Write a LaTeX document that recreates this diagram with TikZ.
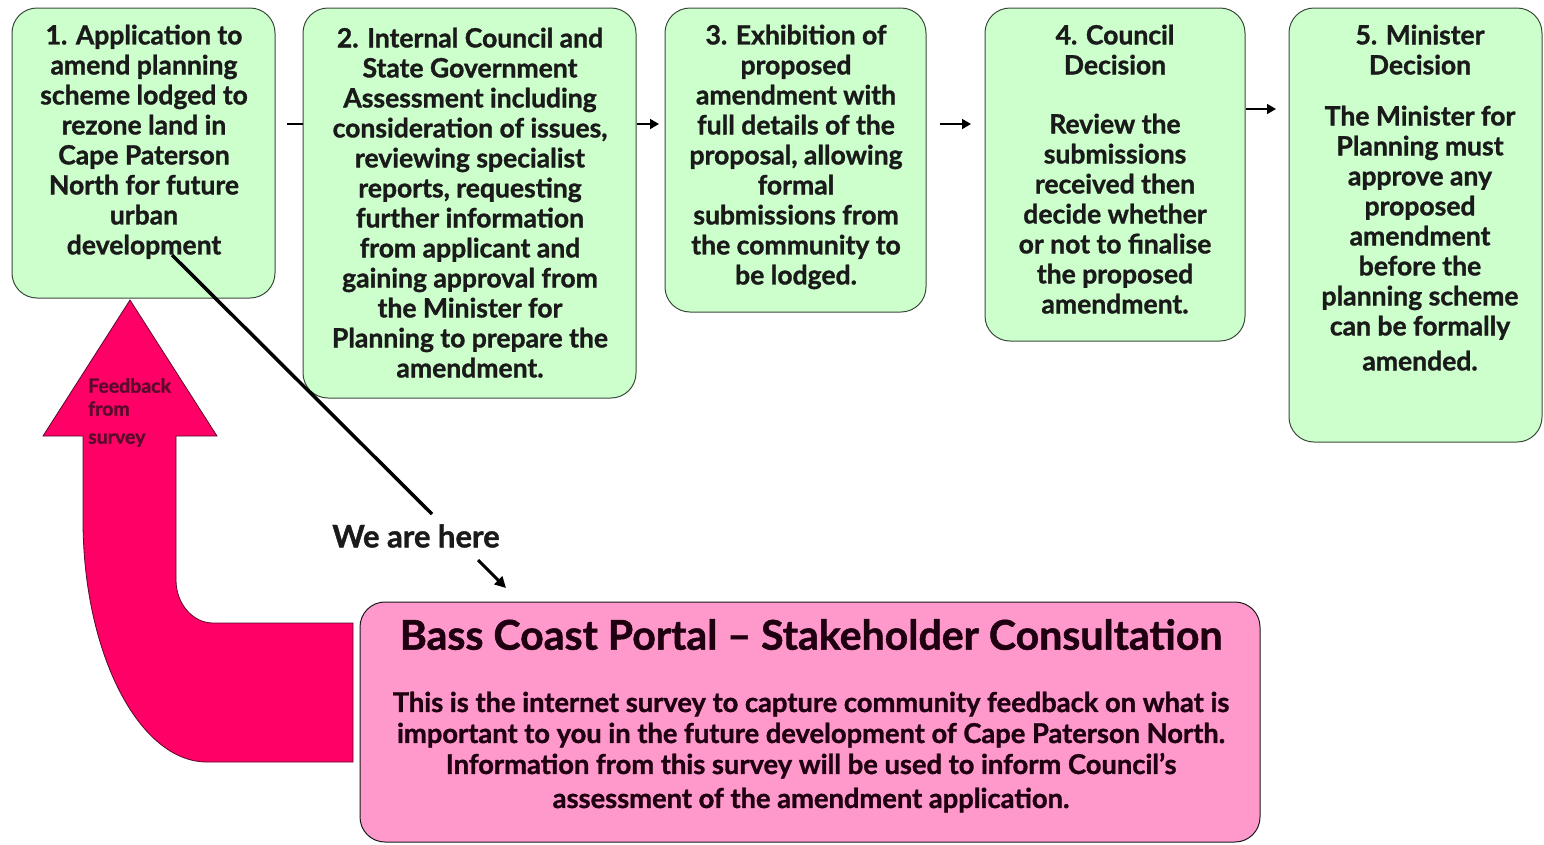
\documentclass[tikz,border=0pt]{standalone}
\usepackage{fontspec}
\setmainfont{Lato}[BoldFeatures={FakeBold=1.2}]
\usetikzlibrary{arrows.meta}
\definecolor{boxgreen}{HTML}{CCFFCC}
\definecolor{boxpink}{HTML}{FF99CC}
\definecolor{crimson}{HTML}{FF0066}
\definecolor{edgegrey}{HTML}{3A4A3A}
\definecolor{inkdark}{HTML}{1A1A1A}
\definecolor{inkpink}{HTML}{1F0010}
\definecolor{maroon}{HTML}{5A0A2A}
\begin{document}
\begin{tikzpicture}[x=1pt,y=-1pt,
  greenbox/.style={draw=edgegrey, fill=boxgreen, line width=1pt, rounded corners=25pt, inner sep=0pt},
  pinkbox/.style={draw=inkdark, fill=boxpink, line width=1pt, rounded corners=25pt, inner sep=0pt},
  boxtext/.style={anchor=north, inner sep=0pt, align=center, text=inkdark, font=\bfseries\fontsize{26.5}{30}\selectfont},
  flow/.style={line width=1.6pt, -{Triangle[length=9pt,width=10pt]}},
  flowplain/.style={line width=1.6pt},
  here/.style={line width=3.5pt, black},
]
\useasboundingbox (0,0) rectangle (1544,844);

% feedback arrow
\draw[fill=crimson, draw=maroon, line width=0.8pt]
  (130,300) -- (217,436) -- (176,436) -- (176,580)
  .. controls (176,604) and (193,623) .. (213,623)
  -- (353,623) -- (353,762) -- (207,762)
  .. controls (139,762) and (83,653) .. (83,520)
  -- (83,436) -- (43,436) -- cycle;
\node[anchor=north west, inner sep=0pt, align=left, text=maroon, font=\bfseries\fontsize{19.5}{23}\selectfont] (fb) at (88,378) {Feedback\\from\\[5pt]survey};

% green boxes
\node[greenbox, minimum width=263pt, minimum height=290pt] (b1) at (143.5,153) {};
\node[greenbox, minimum width=333pt, minimum height=390pt] (b2) at (469.5,203) {};
\node[greenbox, minimum width=261pt, minimum height=304pt] (b3) at (795.5,160) {};
\node[greenbox, minimum width=260pt, minimum height=333pt] (b4) at (1115,174.5) {};
\node[greenbox, minimum width=253pt, minimum height=434pt] (b5) at (1415.5,225) {};

\node[boxtext] (t1) at (144,24.5) {1. Application to\\amend planning\\scheme lodged to\\rezone land in\\Cape Paterson\\North for future\\urban\\development};
\node[boxtext] (t2) at (470,27.5) {2. Internal Council and\\State Government\\Assessment including\\consideration of issues,\\reviewing specialist\\reports, requesting\\further information\\from applicant and\\gaining approval from\\the Minister for\\Planning to prepare the\\amendment.};
\node[boxtext] (t3) at (796,24.5) {3. Exhibition of\\proposed\\amendment with\\full details of the\\proposal, allowing\\formal\\submissions from\\the community to\\be lodged.};
\node[boxtext] (t4) at (1115,24.5) {4. Council\\Decision\\[29pt]Review the\\submissions\\received then\\decide whether\\or not to finalise\\the proposed\\amendment.};
\node[boxtext] (t5) at (1420,24.5) {5. Minister\\Decision\\[21pt]The Minister for\\Planning must\\approve any\\proposed\\amendment\\before the\\planning scheme\\can be formally\\[5pt]amended.};

% connectors between steps
\coordinate (c1s) at (287,124);
\coordinate (c2s) at (637,124);
\coordinate (c2e) at (659,124);
\coordinate (c3s) at (940,124);
\coordinate (c3e) at (971,124);
\coordinate (c4s) at (1246,109);
\coordinate (c4e) at (1276,109);
\draw[flowplain] (c1s) -- (c1s -| b2.west);
\draw[flow] (c2s) -- (c2e);
\draw[flow] (c3s) -- (c3e);
\draw[flow] (c4s) -- (c4e);

% pink box
\node[pinkbox, minimum width=900pt, minimum height=240pt] (pk) at (810,722) {};
\node[anchor=north, inner sep=0pt, text=inkpink, font=\bfseries\fontsize{41}{46}\selectfont] (pt) at (811,619) {Bass Coast Portal – Stakeholder Consultation};
\node[anchor=north, inner sep=0pt, align=center, text=inkpink, font=\bfseries\fontsize{27.3}{31}\selectfont] (pb) at (811,691.5) {This is the internet survey to capture community feedback on what is\\important to you in the future development of Cape Paterson North.\\Information from this survey will be used to inform Council’s\\[3pt]assessment of the amendment application.};

% we are here
\node[inner sep=0pt, text=inkdark, font=\bfseries\fontsize{31}{34}\selectfont] (wh) at (416,536) {We are here};
\coordinate (h1) at (172,255);
\coordinate (h2) at (432,514);
\coordinate (h3) at (478,560);
\coordinate (h4) at (506,588);
\draw[here] (h1) -- (h2);
\draw[line width=3pt, -{Triangle[length=11pt,width=11pt]}] (h3) -- (h4);
\end{tikzpicture}
\end{document}
